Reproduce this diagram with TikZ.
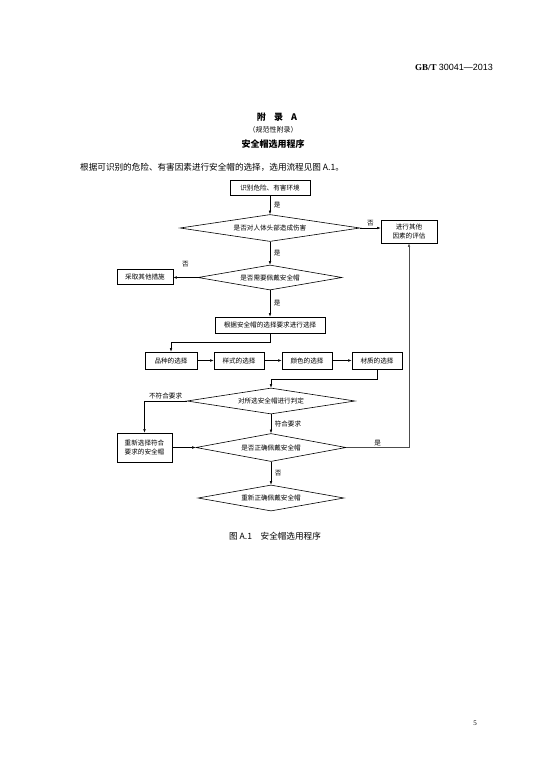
\documentclass[tikz,border=0pt]{standalone}
\usepackage{fontspec}
\setmainfont{Liberation Serif}
\newfontfamily\cjk{Noto Sans CJK SC}
\newfontfamily\hsans{Liberation Sans}
\usetikzlibrary{shapes.geometric,arrows.meta}
\begin{document}
\begin{tikzpicture}[x=1pt,y=-1pt,
  flowbox/.style={draw, line width=0.75pt, inner sep=0pt, align=center,
    font=\cjk\fontsize{6.6}{8.5}\selectfont},
  dia/.style={diamond, draw, line width=0.6pt, aspect=6, inner sep=0pt,
    font=\cjk\fontsize{6.6}{8}\selectfont},
  arr/.style={-{Latex[length=3.5pt,width=2.6pt]}, line width=0.5pt},
  lbl/.style={font=\cjk\fontsize{6.6}{8}\selectfont, inner sep=1.5pt}]
\useasboundingbox[fill=white] (0,0) rectangle (554,776);

% page texts
\node[anchor=east, inner sep=0pt] (hdr) at (493,67) {\fontsize{9}{10}\selectfont\textbf{GB/T}\ \hsans 30041—2013};
\node[inner sep=0pt] (t1) at (277,117) {\cjk\bfseries\fontsize{9}{10}\selectfont 附\hspace{0.9em}录\hspace{0.9em}A};
\node[inner sep=0pt] (t2) at (273,130) {\cjk\fontsize{7}{8}\selectfont （规范性附录）};
\node[inner sep=0pt] (t3) at (273,144) {\cjk\bfseries\fontsize{9}{10}\selectfont 安全帽选用程序};
\node[anchor=west, inner sep=0pt] (body) at (80,167) {\cjk\fontsize{8.6}{10}\selectfont 根据可识别的危险、有害因素进行安全帽的选择，选用流程见图 A.1。};
\node[inner sep=0pt] (cap) at (275,536) {\cjk\fontsize{8.6}{10}\selectfont 图 A.1\hspace{1em}安全帽选用程序};
\node[inner sep=0pt] (pg) at (475,723) {\fontsize{7}{8}\selectfont 5};

% flowchart nodes
\node[flowbox, minimum width=80pt, minimum height=15pt] (s) at (270,187.5) {识别危险、有害环境};
\node[dia, minimum width=180pt, minimum height=27pt] (d1) at (270,228) {是否对人体头部造成伤害};
\node[flowbox, minimum width=56pt, minimum height=23pt] (ev) at (409,231.5) {进行其他\\因素的评估};
\node[dia, minimum width=144pt, minimum height=25pt] (d2) at (270,277.5) {是否需要佩戴安全帽};
\node[flowbox, minimum width=56pt, minimum height=15pt] (cq) at (145,276.5) {采取其他措施};
\node[flowbox, minimum width=110pt, minimum height=16pt] (gj) at (270,325) {根据安全帽的选择要求进行选择};
\node[flowbox, minimum width=52pt, minimum height=17pt] (p1) at (171,360.5) {品种的选择};
\node[flowbox, minimum width=50pt, minimum height=17pt] (p2) at (239,360.5) {样式的选择};
\node[flowbox, minimum width=50pt, minimum height=17pt] (p3) at (307,360.5) {颜色的选择};
\node[flowbox, minimum width=50pt, minimum height=17pt] (p4) at (377,360.5) {材质的选择};
\node[dia, minimum width=168pt, minimum height=26pt] (d3) at (271,401) {对所选安全帽进行判定};
\node[flowbox, minimum width=55pt, minimum height=29pt] (cx) at (144.5,447.5) {重新选择符合\\要求的安全帽};
\node[dia, minimum width=150pt, minimum height=28pt] (d4) at (271,447.5) {是否正确佩戴安全帽};
\node[dia, minimum width=146pt, minimum height=26pt] (d5) at (271,498) {重新正确佩戴安全帽};

% connectors
\draw[arr] (s.south) -- (d1.north) node[lbl, midway, right=2pt] {是};
\draw[arr] (d1.east) -- (d1.east -| ev.west) node[lbl, midway, above] {否};
\draw[arr] (d1.south) -- (d2.north) node[lbl, midway, right=2pt] {是};
\draw[arr] (d2.west) -- (d2.west -| cq.east) node[lbl, midway, above=9pt] {否};
\draw[arr] (d2.south) -- (gj.north) node[lbl, midway, right=2pt] {是};
\draw[arr] (gj.south) -- ++(0,9) -| (p1.north);
\draw[arr] (p1.east) -- (p2.west);
\draw[arr] (p2.east) -- (p3.west);
\draw[arr] (p3.east) -- (p4.west);
\draw[arr] (p4.south) -- ++(0,10) -| (d3.north);
\draw[arr] (d3.west) -| (cx.north) node[lbl, pos=0.25, above] {不符合要求};
\draw[arr] (d3.south) -- (d4.north) node[lbl, midway, right=2pt] {符合要求};
\draw[arr] (cx.east) -- (d4.west);
\draw[arr, draw=black!70] (d4.east) -| (ev.south) node[lbl, pos=0.25, above] {是};
\draw[arr] (d4.south) -- (d5.north) node[lbl, midway, right=2pt] {否};
\end{tikzpicture}
\end{document}
